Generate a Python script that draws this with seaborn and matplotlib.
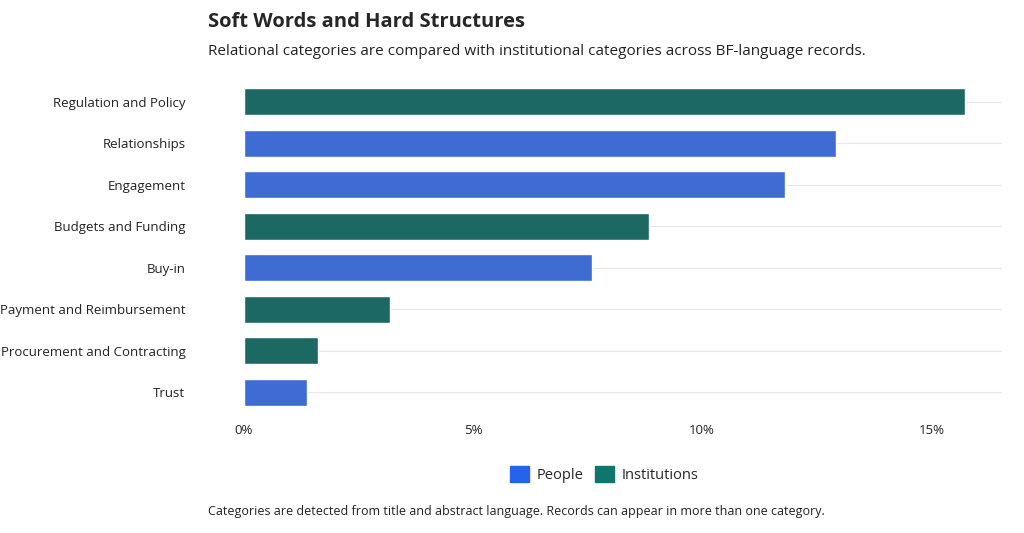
import matplotlib.pyplot as plt
import seaborn as sns
import pandas as pd
from matplotlib.patches import Patch
from matplotlib.ticker import FuncFormatter

# === Data (share of BF-language records, %) ===
df = pd.DataFrame({
    "category": ["Regulation and Policy", "Relationships", "Engagement", "Budgets and Funding",
                 "Buy-in", "Payment and Reimbursement", "Procurement and Contracting", "Trust"],
    "share": [15.73, 12.92, 11.81, 8.85, 7.60, 3.18, 1.63, 1.37],
    "group": ["Institutions", "People", "People", "Institutions",
              "People", "Institutions", "Institutions", "People"],
})
palette = {"People": "#2563EB", "Institutions": "#0F766E"}

sns.set_style("white")
plt.rcParams['font.family'] = ['Open Sans', 'DejaVu Sans']

fig = plt.figure(figsize=(10.24, 5.33), dpi=100)
ax = fig.add_axes([0.238, 0.225, 0.741, 0.623])
sns.barplot(data=df, y="category", x="share", hue="group", palette=palette,
            dodge=False, width=0.65, legend=False, ax=ax, zorder=3)

ax.set_xlim(0, 16.55)
ax.set_xticks([0, 5, 10, 15])
ax.xaxis.set_major_formatter(FuncFormatter(lambda v, p: f"{v:.0f}%"))
ax.set_xlabel("")
ax.set_ylabel("")
ax.tick_params(axis="both", length=0, labelsize=9.5, colors="#222222")
ax.tick_params(axis="x", pad=8)
ax.tick_params(axis="y", pad=42)
for yv in range(len(df)):
    ax.axhline(yv, color="#e6e6e6", lw=0.8, zorder=0)
sns.despine(ax=ax, left=True, bottom=True)

fig.text(0.203, 0.958, "Soft Words and Hard Structures", fontsize=14.5, fontweight="bold", va="center")
fig.text(0.203, 0.904, "Relational categories are compared with institutional categories across BF-language records.",
         fontsize=11, va="center", color="#222222")
handles = [Patch(color=palette["People"], label="People"),
           Patch(color=palette["Institutions"], label="Institutions")]
fig.legend(handles=handles, loc="center", bbox_to_anchor=(0.59, 0.109), ncol=2, frameon=False,
           fontsize=10.5, handlelength=1.3, handleheight=1.3, columnspacing=0.8, handletextpad=0.5)
fig.text(0.203, 0.04, "Categories are detected from title and abstract language. Records can appear in more than one category.",
         fontsize=9, va="center", color="#222222")

fig.savefig("out.png", dpi=100)
